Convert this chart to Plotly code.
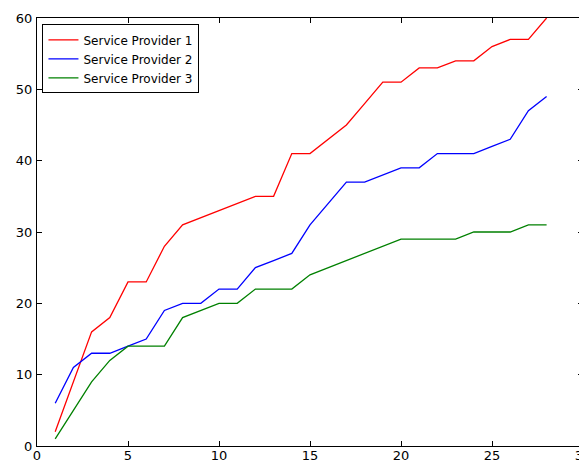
import plotly.graph_objects as go

x = list(range(1, 29))
sp1 = [2, 9, 16, 18, 23, 23, 28, 31, 32, 33, 34, 35, 35, 41, 41, 43, 45, 48, 51, 51, 53, 53, 54, 54, 56, 57, 57, 60]
sp2 = [6, 11, 13, 13, 14, 15, 19, 20, 20, 22, 22, 25, 26, 27, 31, 34, 37, 37, 38, 39, 39, 41, 41, 41, 42, 43, 47, 49]
sp3 = [1, 5, 9, 12, 14, 14, 14, 18, 19, 20, 20, 22, 22, 22, 24, 25, 26, 27, 28, 29, 29, 29, 29, 30, 30, 30, 31, 31]
names = ["Service Provider 1", "Service Provider 2", "Service Provider 3"]
colors = ["#ff0000", "#0000ff", "#008000"]

fig = go.Figure()
for name, ys, c in zip(names, [sp1, sp2, sp3], colors):
    fig.add_trace(go.Scatter(x=x, y=ys, mode="lines", name=name,
                             line=dict(color=c, width=1.3)))

axis_common = dict(showline=True, linecolor="black", linewidth=1, mirror="ticks",
                   ticks="inside", ticklen=5, tickcolor="black", showgrid=False,
                   zeroline=False, automargin=False, ticklabeloverflow="allow",
                   tickfont=dict(size=13, color="black"))
fig.update_xaxes(range=[0, 30], dtick=5, tick0=0, ticklabelstandoff=-3, **axis_common)
fig.update_yaxes(range=[0, 60], dtick=10, tick0=0, ticklabelstandoff=1, **axis_common)

fig.update_layout(
    width=579, height=456,
    margin=dict(l=29, r=4, t=10, b=18, autoexpand=False),
    paper_bgcolor="white", plot_bgcolor="white",
    font=dict(family="DejaVu Sans", size=12, color="black"),
    legend=dict(x=0.01, y=0.985, xanchor="left", yanchor="top",
                bgcolor="white", bordercolor="black", borderwidth=1,
                font=dict(size=12), tracegroupgap=0),
)
fig.write_html("out.html")
